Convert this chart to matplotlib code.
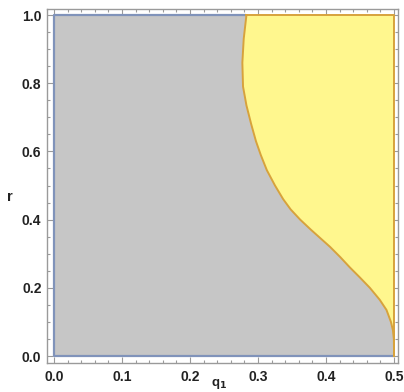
import numpy as np
import matplotlib
matplotlib.use("Agg")
import matplotlib.pyplot as plt
from matplotlib.ticker import MultipleLocator

plt.rcParams['font.family'] = ['Liberation Sans', 'DejaVu Sans']

# Boundary between the two regions: q1 as a function of r
boundary_r = [1.0, 0.965, 0.93, 0.86, 0.79, 0.735, 0.68, 0.63, 0.59, 0.545, 0.50,
              0.46, 0.43, 0.40, 0.37, 0.345, 0.32, 0.29, 0.26, 0.23, 0.20, 0.165, 0.135,
              0.10, 0.075, 0.05, 0.025, 0.0]
boundary_q = [0.283, 0.281, 0.279, 0.277, 0.278, 0.283, 0.290, 0.297, 0.304, 0.313, 0.325,
              0.337, 0.348, 0.362, 0.378, 0.392, 0.406, 0.421, 0.435, 0.450, 0.4645, 0.479, 0.489,
              0.4955, 0.4985, 0.4998, 0.5, 0.5]

q_min, q_max = 0.0, 0.5
r_min, r_max = 0.0, 1.0
x_ticks = [0.0, 0.1, 0.2, 0.3, 0.4, 0.5]
y_ticks = [0.0, 0.2, 0.4, 0.6, 0.8, 1.0]

gray_fill = '#c6c6c6'
blue_edge = '#8093ba'
yellow_fill = '#fff78e'
orange_edge = '#d7a23c'

fig = plt.figure(figsize=(4.04, 3.92), dpi=100)
ax = fig.add_axes([47 / 404, 29 / 392, 351 / 404, 354 / 392])

bq = np.array(boundary_q)
br = np.array(boundary_r)

# gray region: left of the boundary
gx = np.concatenate([[q_min, q_min], bq])
gy = np.concatenate([[r_min, r_max], br])
ax.fill(gx, gy, color=gray_fill, lw=0, zorder=1)
ax.plot([bq[0], q_min, q_min, q_max], [r_max, r_max, r_min, r_min],
        color=blue_edge, lw=1.6, zorder=2, solid_capstyle='butt')

# yellow region: right of the boundary
yx = np.concatenate([bq, [q_max, q_max]])
yy = np.concatenate([br, [r_min, r_max]])
ax.fill(yx, yy, color=yellow_fill, lw=0, zorder=3)
ax.plot(np.concatenate([bq, [q_max, bq[0]]]),
        np.concatenate([br, [r_max, r_max]]),
        color=orange_edge, lw=1.4, zorder=4, solid_joinstyle='round')

ax.set_xlim(-0.0103, 0.5059)
ax.set_ylim(-0.0205, 1.0176)

ax.set_xticks(x_ticks)
ax.set_yticks(y_ticks)
ax.set_xticklabels([f"{v:.1f}" for v in x_ticks])
ax.set_yticklabels([f"{v:.1f}" for v in y_ticks])
ax.xaxis.set_minor_locator(MultipleLocator(0.02))
ax.yaxis.set_minor_locator(MultipleLocator(0.05))

frame_col = '#9a9a9a'
for s in ax.spines.values():
    s.set_color(frame_col)
    s.set_linewidth(1.0)
ax.tick_params(which='both', direction='in', top=True, right=True,
               color=frame_col, width=0.8)
ax.tick_params(which='major', length=4.5)
ax.tick_params(which='minor', length=2.5)
ax.tick_params(axis='x', which='major', pad=5, labelsize=10)
ax.tick_params(axis='y', which='major', pad=4, labelsize=10)
for lbl in ax.get_xticklabels() + ax.get_yticklabels():
    lbl.set_fontweight('bold')
    lbl.set_color('#222222')

ax.set_xlabel('q$_\\mathbf{1}$', fontsize=9.5, fontweight='bold', color='#222222')
ax.set_ylabel('r', fontsize=10.5, fontweight='bold', rotation=0, color='#222222')
ax.xaxis.set_label_coords(0.49, -0.04)
ax.yaxis.set_label_coords(-0.105, 0.45)

fig.savefig('out.png', dpi=100)
